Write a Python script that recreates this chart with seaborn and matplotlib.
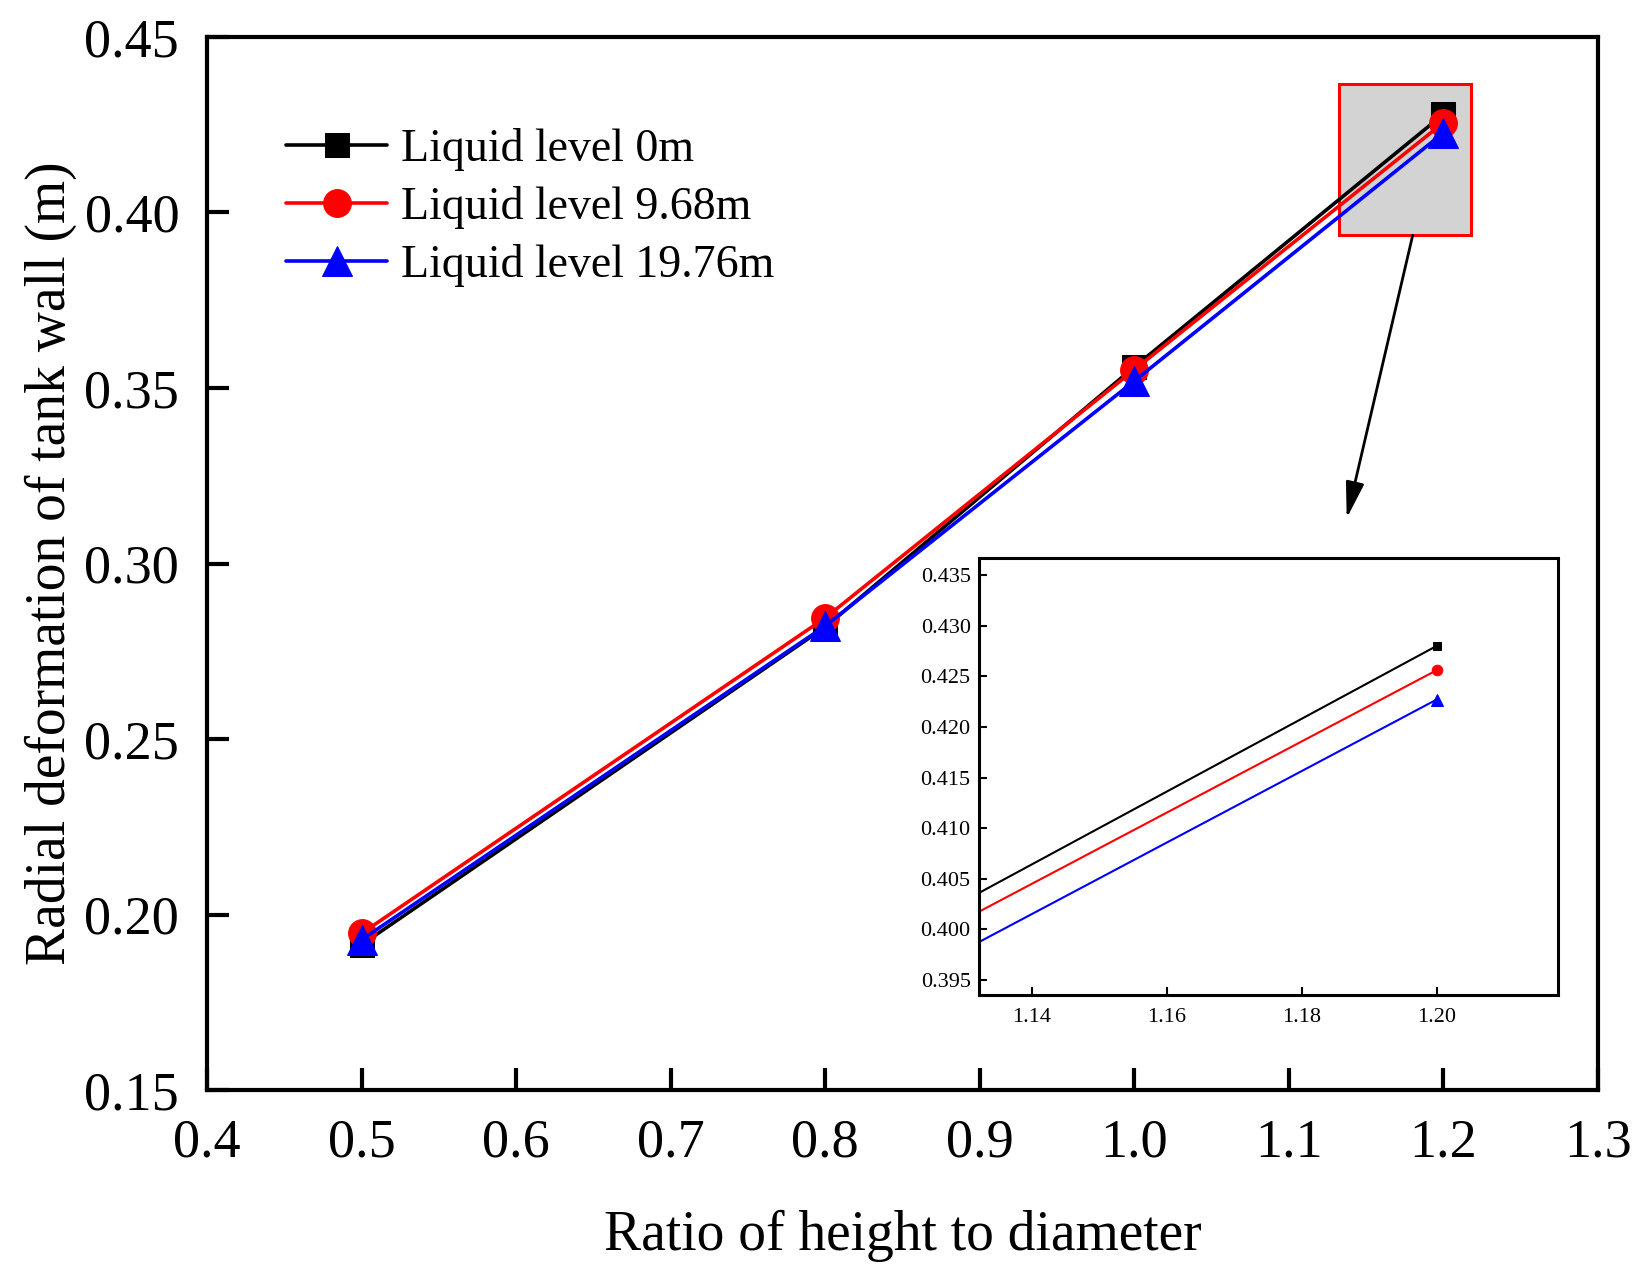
import numpy as np
import pandas as pd
import matplotlib.pyplot as plt
import seaborn as sns
from matplotlib.patches import Rectangle
from matplotlib.ticker import FormatStrFormatter

# ratio of height to diameter
ratio = [0.5, 0.8, 1.0, 1.2]

# radial deformation of tank wall (m)
level_0 = [0.1914, 0.2819, 0.3560, 0.4280]
level_968 = [0.1946, 0.2845, 0.3552, 0.4256]
level_1976 = [0.1928, 0.2822, 0.3520, 0.4227]

labels = ["Liquid level 0m", "Liquid level 9.68m", "Liquid level 19.76m"]

# zoomed window (same for gray box and inset)
zoom_x = (1.1322, 1.2180)
zoom_y = (0.3935, 0.4367)

sns.set_style("ticks")
plt.rcParams["font.family"] = ["Liberation Serif", "DejaVu Serif"]
plt.rcParams.update({"axes.edgecolor": "black", "text.color": "black",
                     "axes.labelcolor": "black", "xtick.color": "black",
                     "ytick.color": "black"})

W, H = 1646, 1266
fig = plt.figure(figsize=(W / 100, H / 100), dpi=100)
ax = fig.add_axes([207 / W, 1 - 1090 / H, 1391 / W, 1053 / H])

series = [
    (level_0, "black", "s", 17),
    (level_968, "red", "o", 20),
    (level_1976, "blue", "^", 21),
]

for (vals, col, mk, ms), lab in zip(series, labels):
    sns.lineplot(x=ratio, y=vals, color=col, marker=mk, markersize=ms,
                 markeredgecolor=col, linewidth=2.6, label=lab, ax=ax, zorder=3)

# zoom box + arrow
ax.add_patch(Rectangle((zoom_x[0], zoom_y[0]), zoom_x[1] - zoom_x[0],
                       zoom_y[1] - zoom_y[0], facecolor="#d3d3d3",
                       edgecolor="red", linewidth=2.2, zorder=2))
ax.annotate("", xy=(1.1374, 0.3129), xytext=(1.1801, zoom_y[0]),
            arrowprops=dict(arrowstyle="-|>,head_length=1.1,head_width=0.28",
                            color="black", lw=2, mutation_scale=20,
                            shrinkA=0, shrinkB=0))

ax.set_xlim(0.4, 1.3)
ax.set_ylim(0.15, 0.45)
ax.set_xticks(np.arange(0.4, 1.31, 0.1))
ax.set_yticks(np.arange(0.15, 0.451, 0.05))
ax.xaxis.set_major_formatter(FormatStrFormatter("%.1f"))
ax.yaxis.set_major_formatter(FormatStrFormatter("%.2f"))
ax.tick_params(direction="in", length=16, width=3, labelsize=39)
ax.tick_params(axis="x", pad=20)
ax.tick_params(axis="y", pad=20)
for s in ax.spines.values():
    s.set_linewidth(3)
ax.set_xlabel("Ratio of height to diameter", fontsize=40, labelpad=30)
ax.set_ylabel("Radial deformation of tank wall (m)", fontsize=40, labelpad=5)

ax.legend(loc="upper left", bbox_to_anchor=(0.057, 0.914), frameon=False,
          fontsize=33, handlelength=2.2, handletextpad=0.3, labelspacing=0.33,
          borderpad=0, borderaxespad=0)

# inset
ins = fig.add_axes([979 / W, 1 - 995 / H, 579 / W, 437 / H])
for (vals, col, mk, ms), lab in zip(series, labels):
    sns.lineplot(x=ratio, y=vals, color=col, marker=mk, markersize=ms * 0.38,
                 markeredgecolor=col, linewidth=1.5, ax=ins)
ins.set_xlim(*zoom_x)
ins.set_ylim(*zoom_y)
ins.set_xticks([1.14, 1.16, 1.18, 1.20])
ins.set_yticks(np.arange(0.395, 0.4351, 0.005))
ins.xaxis.set_major_formatter(FormatStrFormatter("%.2f"))
ins.yaxis.set_major_formatter(FormatStrFormatter("%.3f"))
ins.tick_params(direction="in", length=6, width=1.5, labelsize=16)
ins.tick_params(axis="x", pad=9)
ins.tick_params(axis="y", pad=6)
for s in ins.spines.values():
    s.set_linewidth(2.2)
ins.set_xlabel("")
ins.set_ylabel("")

fig.savefig("out.png", dpi=100)
